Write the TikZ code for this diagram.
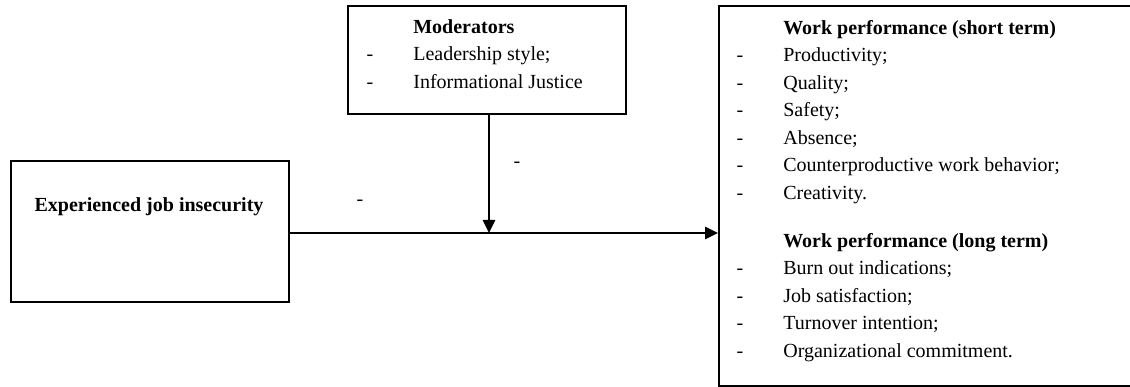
\documentclass[tikz,border=0pt]{standalone}
\usepackage{fontspec}
\setmainfont{Liberation Serif}
\usetikzlibrary{arrows.meta}

\begin{document}
\begin{tikzpicture}[x=0.6pt, y=-0.6pt,
		box/.style={draw, line width=1.2pt, inner sep=0pt, anchor=north west},
		txt/.style={anchor=base west, inner sep=0pt},
		hyph/.style={anchor=base, inner sep=0pt},
		link/.style={line width=0.9pt},
		tip/.style={-{Triangle[length=7.8pt, width=7.5pt]}},
	]
	\fontsize{12}{16.5}\selectfont
	\useasboundingbox (0,0) rectangle (1130,387);
	\clip (0,0) rectangle (1130,387);
	% the three boxes
	\node[box, minimum width=166.8pt, minimum height=84.6pt] (expjob) at (10,160) {};
	\node[box, minimum width=166.8pt, minimum height=64.8pt] (moder) at (347,5) {};
	\node[box, minimum width=300pt, minimum height=228pt] (perf) at (718,5) {};
	% texts
	\node[anchor=base, inner sep=0pt] (expjobtxt) at (149,211.5) {\textbf{Experienced job insecurity}};
	\node[txt] (modertxt) at (413,33.5) {\textbf{Moderators}};
	\foreach \entry [count=\i] in {{Leadership style;},{Informational Justice}} {
		\node[hyph] (moderdash\i) at (370,33.5+27.5*\i) {-};
		\node[txt] (moderitem\i) at (413,33.5+27.5*\i) {\entry};
	}
	\node[txt] (shorttxt) at (783,34.5) {\textbf{Work performance (short term)}};
	\foreach \entry [count=\i] in {{Productivity;},{Quality;},{Safety;},{Absence;},{Counterproductive work behavior;},{Creativity.}} {
		\node[hyph] (shortdash\i) at (740,34.5+27.5*\i) {-};
		\node[txt] (shortitem\i) at (783,34.5+27.5*\i) {\entry};
	}
	\node[txt] (longtxt) at (783,247.5) {\textbf{Work performance (long term)}};
	\foreach \entry [count=\i] in {{Burn out indications;},{Job satisfaction;},{Turnover intention;},{Organizational commitment.}} {
		\node[hyph] (longdash\i) at (740,247.5+27.5*\i) {-};
		\node[txt] (longitem\i) at (783,247.5+27.5*\i) {\entry};
	}
	% connectors
	\coordinate (join) at (489,233);
	\draw[link, tip] (expjob.east |- join) -- (perf.west |- join);
	\draw[link, tip] (moder.south -| join) -- (join);
	\node[anchor=center, inner sep=0pt] (mainsign) at (360,203) {-};
	\node[anchor=center, inner sep=0pt] (modsign) at (517,165) {-};
\end{tikzpicture}
\end{document}
